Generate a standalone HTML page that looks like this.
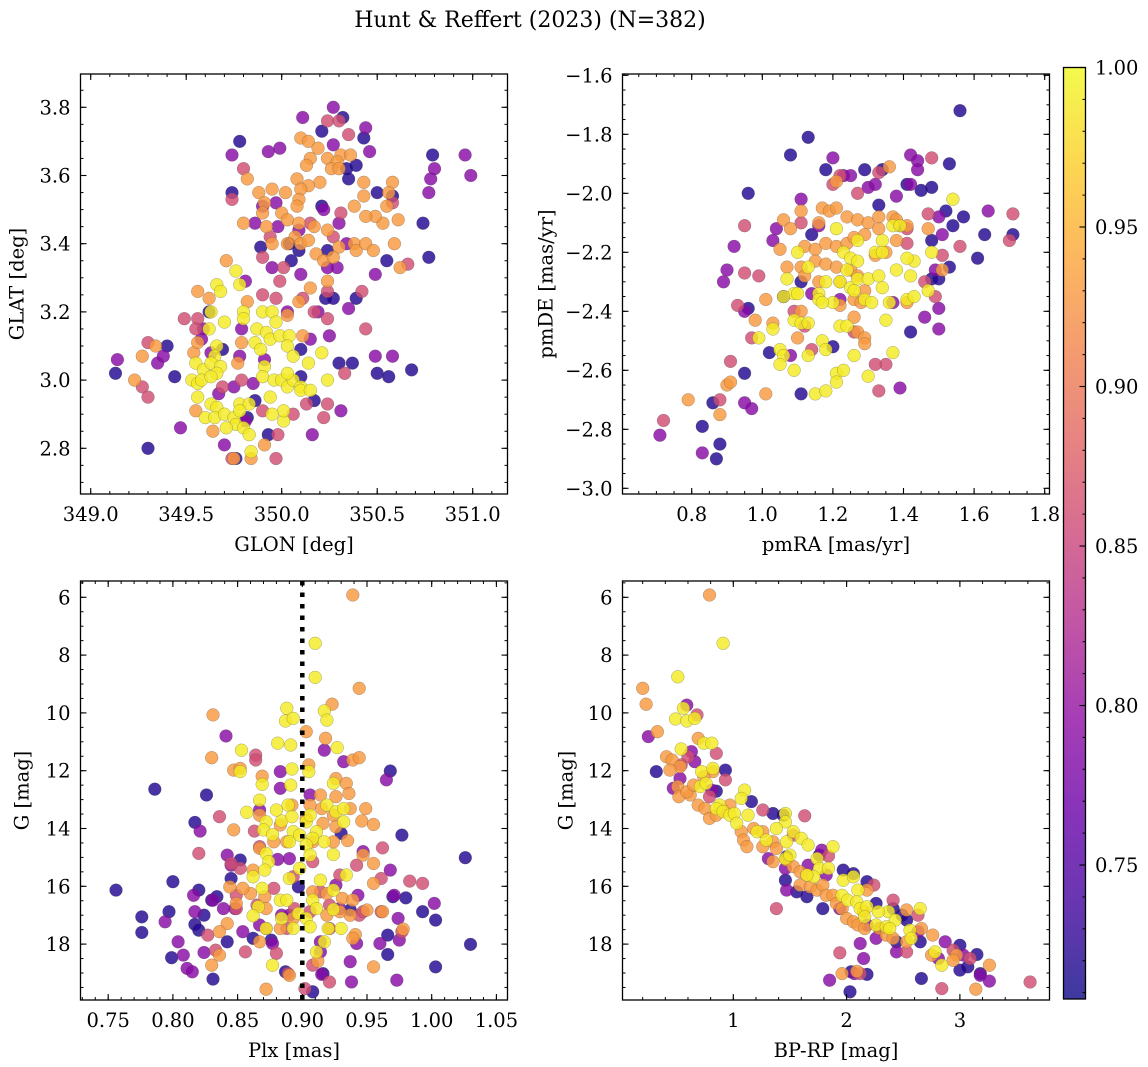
<!DOCTYPE html>
<html><head><meta charset="utf-8"><style>
html,body{margin:0;padding:0;background:#fff;}
svg{display:block;font-family:"DejaVu Serif","Liberation Serif",serif;}
</style></head><body>
<svg id="fig" width="1148" height="1067" viewBox="0 0 1148 1067" xmlns="http://www.w3.org/2000/svg">
<defs>
<linearGradient id="plasmaGrad" x1="0" y1="1" x2="0" y2="0">
<stop offset="0" stop-color="#0d0887"/><stop offset="0.1" stop-color="#41049d"/><stop offset="0.2" stop-color="#6a00a8"/><stop offset="0.3" stop-color="#8f0da4"/><stop offset="0.4" stop-color="#b12a90"/><stop offset="0.5" stop-color="#cc4778"/><stop offset="0.6" stop-color="#e16462"/><stop offset="0.7" stop-color="#f2844b"/><stop offset="0.8" stop-color="#fca636"/><stop offset="0.9" stop-color="#fcce25"/><stop offset="1" stop-color="#f0f921"/>
</linearGradient>
<clipPath id="c1"><rect x="80.5" y="74" width="427" height="420"/></clipPath>
<clipPath id="c2"><rect x="622.5" y="74" width="427" height="420"/></clipPath>
<clipPath id="c3"><rect x="80.5" y="581" width="427" height="419"/></clipPath>
<clipPath id="c4"><rect x="622.5" y="581" width="427" height="419"/></clipPath>
</defs>
<text x="530" y="27" font-size="22" text-anchor="middle">Hunt &amp; Reffert (2023) (N=382)</text>
<g id="root"></g>
</svg>
<script>
// probability level of each colour group
const probLevels = [0.72, 0.79, 0.86, 0.93, 0.99];
// Panel 1: GLON, GLAT
const p1Dark = [[350.32,3.77],[350.21,3.73],[350.43,3.71],[349.78,3.70],[350.79,3.66],[350.39,3.63],[350.34,3.62],[350.35,3.59],[349.74,3.55],[350.21,3.51],[350.58,3.54],[350.50,3.55],[350.74,3.46],[349.89,3.39],[350.04,3.40],[350.05,3.35],[350.55,3.35],[350.77,3.36],[350.09,3.38],[350.24,3.38],[350.23,3.24],[350.39,3.24],[350.27,3.24],[349.40,3.10],[349.13,3.02],[349.44,3.01],[350.30,3.05],[350.37,3.05],[350.50,3.02],[350.56,3.01],[350.68,3.03],[350.17,2.94],[349.86,2.94],[349.93,2.84],[349.30,2.80],[349.76,2.77],[350.10,3.09],[349.69,3.09],[349.62,3.20],[350.10,3.01],[349.82,2.89]];
const p1Purple = [[350.27,3.80],[350.11,3.77],[350.44,3.74],[349.74,3.66],[349.93,3.67],[349.99,3.68],[350.27,3.69],[350.46,3.67],[350.96,3.66],[350.80,3.62],[350.78,3.59],[350.77,3.55],[350.99,3.60],[349.97,3.52],[349.86,3.46],[349.98,3.45],[350.30,3.46],[350.34,3.40],[350.29,3.33],[349.95,3.33],[350.49,3.31],[350.10,3.31],[350.03,3.20],[350.19,3.20],[350.35,3.21],[349.81,3.29],[349.79,3.15],[349.58,3.12],[349.59,3.15],[349.91,3.06],[349.78,3.07],[350.49,3.07],[350.58,3.07],[350.25,3.13],[349.47,2.86],[349.70,2.81],[350.16,2.84],[350.31,2.91],[349.67,2.96],[349.85,2.99],[349.14,3.06],[349.35,3.05],[349.63,3.08],[349.38,3.07],[350.15,3.12],[349.81,2.88],[349.75,2.98],[350.24,3.33],[350.22,3.50],[349.90,3.51],[350.09,3.44]];
const p1Pink = [[350.24,3.76],[350.30,3.76],[350.35,3.72],[349.80,3.62],[349.74,3.53],[349.90,3.36],[350.01,3.33],[349.99,3.29],[349.90,3.25],[349.97,3.24],[350.11,3.24],[350.24,3.26],[350.42,3.26],[350.17,3.20],[350.24,3.18],[350.44,3.15],[349.56,3.18],[349.55,3.15],[349.30,3.11],[349.27,2.98],[349.30,2.95],[349.49,3.18],[350.33,3.02],[349.79,3.00],[349.69,2.98],[349.90,2.91],[350.06,2.90],[350.22,2.89],[350.24,2.93],[349.98,2.84],[349.97,2.77],[349.74,2.77],[350.58,3.52],[350.66,3.34],[350.27,3.42],[349.94,3.42],[350.15,3.46],[350.31,3.49],[350.13,2.93]];
const p1Orange = [[350.10,3.71],[350.14,3.70],[350.19,3.68],[350.15,3.65],[350.24,3.65],[350.31,3.66],[350.36,3.66],[350.29,3.64],[350.13,3.63],[350.26,3.62],[350.30,3.62],[350.20,3.58],[350.08,3.59],[350.14,3.57],[350.10,3.56],[350.02,3.55],[349.95,3.56],[349.88,3.55],[350.09,3.53],[350.08,3.51],[349.91,3.52],[349.90,3.49],[350.00,3.49],[350.03,3.47],[349.92,3.45],[349.80,3.46],[350.09,3.46],[350.17,3.45],[350.07,3.42],[350.10,3.40],[350.14,3.41],[350.03,3.40],[350.24,3.44],[350.30,3.39],[350.38,3.40],[350.39,3.38],[350.44,3.40],[350.48,3.38],[350.53,3.46],[350.49,3.48],[350.44,3.48],[350.61,3.47],[350.58,3.58],[350.56,3.55],[350.55,3.51],[350.59,3.40],[350.62,3.33],[350.43,3.58],[350.38,3.51],[350.43,3.54],[350.18,3.37],[350.22,3.35],[350.24,3.29],[350.15,3.27],[349.82,3.59],[349.71,3.35],[349.62,3.24],[349.56,3.26],[349.82,3.23],[350.03,3.19],[350.09,3.23],[349.27,3.07],[349.23,3.00],[349.34,3.10],[349.54,3.08],[349.55,2.91],[349.64,2.85],[349.91,2.81],[349.84,2.77],[349.75,2.77],[350.11,3.13],[349.79,3.11],[349.77,3.05],[349.56,3.11],[350.27,3.36],[349.95,3.40]];
const p1Yellow = [[349.76,3.32],[349.66,3.28],[349.68,3.26],[349.78,3.28],[349.63,3.20],[349.70,3.17],[349.80,3.20],[349.80,3.18],[349.90,3.20],[349.95,3.20],[349.97,3.17],[349.62,3.15],[349.87,3.15],[349.92,3.14],[349.94,3.12],[349.99,3.13],[350.04,3.13],[350.03,3.10],[350.06,3.07],[349.86,3.11],[349.89,3.09],[349.66,3.10],[349.65,3.07],[349.55,3.05],[349.59,3.03],[349.63,3.05],[349.68,3.04],[349.66,3.02],[349.53,3.00],[349.56,2.99],[349.58,3.00],[349.63,3.01],[349.91,3.04],[349.90,3.01],[349.96,3.00],[350.00,3.00],[350.03,2.98],[350.06,3.00],[350.10,2.98],[350.10,2.97],[350.15,2.97],[350.14,3.05],[350.21,3.08],[350.24,3.00],[350.03,3.02],[349.56,2.95],[349.63,2.93],[349.66,2.92],[349.60,2.89],[349.65,2.89],[349.70,2.90],[349.75,2.89],[349.78,2.93],[349.83,2.93],[349.78,2.91],[349.76,2.87],[349.80,2.86],[349.83,2.84],[349.71,2.86],[350.01,2.88],[350.01,2.91],[349.95,2.90],[349.84,2.79],[349.94,2.95]];
// Panel 2: pmRA, pmDE
const p2Dark = [[1.56,-1.72],[1.13,-1.81],[1.08,-1.87],[1.18,-1.92],[1.29,-1.92],[1.34,-1.92],[1.53,-1.90],[1.41,-1.97],[1.45,-1.99],[1.48,-1.98],[0.96,-2.00],[1.33,-2.04],[1.52,-2.06],[1.57,-2.08],[1.63,-2.14],[1.71,-2.14],[1.48,-2.16],[1.61,-2.22],[1.53,-2.25],[1.48,-2.29],[1.50,-2.29],[1.14,-2.14],[1.06,-2.35],[0.96,-2.39],[1.11,-2.30],[1.42,-2.47],[1.02,-2.54],[1.20,-2.52],[0.95,-2.61],[0.86,-2.71],[0.83,-2.79],[0.88,-2.85],[0.87,-2.90],[1.11,-2.68],[1.54,-2.11],[1.39,-2.11]];
const p2Purple = [[1.20,-1.88],[1.42,-1.87],[1.44,-1.89],[1.44,-1.92],[1.25,-1.94],[1.30,-1.98],[1.32,-1.97],[1.38,-2.01],[1.42,-1.97],[1.11,-2.02],[1.04,-2.12],[0.92,-2.18],[0.90,-2.26],[0.89,-2.30],[0.95,-2.40],[1.03,-2.16],[1.50,-2.08],[1.64,-2.06],[1.51,-2.14],[1.49,-2.26],[1.50,-2.39],[1.46,-2.42],[1.50,-2.46],[1.39,-2.66],[0.95,-2.71],[0.97,-2.73],[0.71,-2.82],[0.83,-2.88],[1.08,-2.55],[1.23,-1.94],[1.16,-2.11],[1.22,-2.36],[1.37,-2.37],[1.14,-2.34]];
const p2Pink = [[1.48,-1.88],[1.33,-1.93],[1.27,-2.00],[0.95,-2.11],[0.95,-2.27],[0.99,-2.28],[0.93,-2.38],[0.97,-2.49],[0.91,-2.57],[0.88,-2.70],[1.71,-2.07],[1.70,-2.16],[1.56,-2.18],[1.47,-2.07],[1.11,-2.10],[1.41,-2.17],[1.51,-2.21],[1.46,-2.30],[1.49,-2.35],[1.20,-1.97],[1.22,-1.94],[1.35,-2.58],[1.32,-2.58],[1.33,-2.67],[1.14,-2.53],[1.12,-2.45],[1.26,-2.47],[0.72,-2.77],[1.41,-2.12],[1.09,-2.40]];
const p2Orange = [[1.36,-1.91],[1.21,-1.96],[1.11,-2.06],[1.17,-2.05],[1.19,-2.06],[1.21,-2.05],[1.06,-2.09],[1.08,-2.12],[1.16,-2.10],[1.24,-2.08],[1.27,-2.09],[1.30,-2.10],[1.33,-2.08],[1.37,-2.08],[1.38,-2.09],[1.41,-2.11],[1.12,-2.18],[1.15,-2.19],[1.18,-2.17],[1.21,-2.18],[1.24,-2.17],[1.26,-2.15],[1.29,-2.14],[1.33,-2.12],[1.05,-2.19],[1.07,-2.25],[1.11,-2.25],[1.15,-2.23],[1.18,-2.24],[1.21,-2.25],[1.25,-2.26],[1.27,-2.28],[1.32,-2.21],[1.35,-2.20],[1.38,-2.16],[1.12,-2.28],[1.16,-2.30],[1.22,-2.30],[1.26,-2.36],[1.29,-2.33],[1.11,-2.40],[1.22,-2.38],[1.26,-2.42],[1.28,-2.37],[0.98,-2.43],[1.03,-2.44],[1.10,-2.49],[1.27,-2.47],[1.29,-2.49],[1.29,-2.51],[0.90,-2.65],[0.91,-2.64],[0.88,-2.75],[0.79,-2.70],[1.01,-2.68],[1.01,-2.36],[1.41,-2.37],[1.47,-2.12],[1.51,-2.26]];
const p2Yellow = [[1.54,-2.02],[1.21,-2.12],[1.27,-2.16],[1.34,-2.16],[1.37,-2.11],[1.39,-2.11],[1.32,-2.20],[1.34,-2.20],[1.23,-2.20],[1.25,-2.22],[1.27,-2.23],[1.48,-2.20],[1.43,-2.23],[1.41,-2.22],[1.10,-2.20],[1.07,-2.29],[1.13,-2.25],[1.18,-2.30],[1.22,-2.30],[1.25,-2.32],[1.27,-2.29],[1.30,-2.29],[1.33,-2.28],[1.34,-2.32],[1.38,-2.26],[1.42,-2.28],[1.24,-2.26],[1.16,-2.34],[1.20,-2.37],[1.26,-2.33],[1.29,-2.36],[1.31,-2.37],[1.36,-2.37],[1.41,-2.36],[1.43,-2.35],[1.47,-2.33],[1.09,-2.34],[1.10,-2.34],[1.06,-2.35],[1.16,-2.36],[1.17,-2.37],[1.09,-2.43],[1.11,-2.44],[1.13,-2.44],[1.22,-2.45],[1.24,-2.45],[1.35,-2.43],[1.03,-2.46],[0.99,-2.49],[1.05,-2.53],[1.06,-2.55],[1.05,-2.58],[1.09,-2.60],[1.13,-2.55],[1.17,-2.50],[1.18,-2.53],[1.26,-2.55],[1.37,-2.54],[1.30,-2.62],[1.21,-2.61],[1.23,-2.60],[1.21,-2.64],[1.15,-2.68],[1.18,-2.67]];
// Panel 3: Plx, G
const p3Dark = [[0.786,12.64],[0.826,12.84],[0.817,13.79],[0.756,16.13],[0.800,15.84],[0.797,16.88],[0.776,17.06],[0.776,17.60],[0.799,18.47],[0.817,17.32],[0.820,17.52],[0.831,19.21],[0.820,16.13],[0.830,16.48],[0.834,16.36],[0.842,17.92],[0.852,15.09],[0.862,17.80],[0.876,17.86],[0.887,18.96],[0.908,19.65],[0.916,19.02],[0.897,16.02],[0.968,12.01],[0.977,14.23],[1.026,15.01],[1.030,18.01],[1.003,18.79],[1.003,17.17],[0.993,16.88],[0.980,16.40],[0.966,17.69],[0.966,18.36],[0.930,14.17],[0.937,16.82],[0.824,17.00],[0.970,16.36],[0.845,15.73]];
const p3Purple = [[0.841,10.80],[0.965,12.32],[0.932,11.69],[0.917,11.29],[0.821,14.09],[0.842,14.92],[0.883,12.03],[0.883,12.61],[0.867,13.36],[0.804,17.92],[0.794,17.23],[0.808,18.38],[0.811,18.84],[0.815,18.96],[0.824,18.29],[0.816,16.31],[0.817,16.88],[0.831,16.48],[0.839,16.77],[0.848,16.77],[0.854,17.57],[0.877,17.98],[0.884,17.00],[0.914,17.92],[0.915,19.05],[0.937,18.61],[0.938,19.31],[0.942,17.98],[0.960,17.98],[0.973,19.25],[0.974,17.11],[0.975,17.86],[1.002,16.59],[0.947,14.80],[0.968,15.44],[0.971,16.31],[0.943,16.31],[0.926,15.96],[0.890,17.00],[0.881,15.07],[0.867,17.34],[0.906,12.84],[0.929,16.77],[0.845,15.27],[0.914,18.27],[0.890,15.04]];
const p3Pink = [[0.864,11.46],[0.864,11.63],[0.836,13.59],[0.820,14.86],[0.852,15.38],[0.845,15.21],[0.849,16.77],[0.856,18.27],[0.833,18.21],[0.827,17.69],[0.880,18.32],[0.889,19.02],[0.908,18.73],[0.921,19.31],[0.902,19.54],[0.962,14.67],[0.961,15.73],[0.983,15.82],[0.993,15.90],[0.977,17.57],[0.961,16.88],[0.942,15.27],[0.867,14.63],[0.863,14.09],[0.878,16.07],[0.894,16.77],[0.914,16.19],[0.929,15.61],[0.944,17.00],[0.872,17.46],[0.888,17.46],[0.921,17.46],[0.906,16.88],[0.908,15.15],[0.849,16.31],[0.865,16.65],[0.893,15.67],[0.921,16.65],[0.947,16.88]];
const p3Orange = [[0.939,5.92],[0.944,9.15],[0.831,10.07],[0.923,9.70],[0.903,10.65],[0.918,10.88],[0.830,11.55],[0.847,11.98],[0.852,11.92],[0.869,12.19],[0.905,11.80],[0.939,11.63],[0.944,11.55],[0.926,12.27],[0.934,12.44],[0.936,12.79],[0.926,12.90],[0.914,12.84],[0.906,13.19],[0.915,13.31],[0.924,13.54],[0.916,13.82],[0.926,13.94],[0.937,13.31],[0.949,13.31],[0.946,13.74],[0.955,13.86],[0.935,14.42],[0.947,14.92],[0.955,15.21],[0.955,15.90],[0.950,16.82],[0.962,16.88],[0.978,17.48],[0.941,17.67],[0.955,18.79],[0.847,14.05],[0.842,17.29],[0.836,17.57],[0.830,18.73],[0.836,18.38],[0.872,19.56],[0.890,19.08],[0.912,18.59],[0.883,17.46],[0.893,17.11],[0.908,16.19],[0.919,16.25],[0.931,16.42],[0.937,17.00],[0.939,16.48],[0.860,16.25],[0.844,16.02],[0.854,16.07],[0.871,16.36],[0.872,16.77],[0.919,17.00],[0.929,16.88],[0.867,13.54],[0.883,13.88],[0.903,13.65],[0.908,14.46],[0.888,14.46],[0.867,14.69],[0.849,16.59],[0.867,17.92],[0.892,13.19],[0.924,14.46],[0.939,17.80],[0.862,15.44],[0.878,14.46]];
const p3Yellow = [[0.910,7.59],[0.910,8.77],[0.888,9.84],[0.917,9.93],[0.919,10.25],[0.887,10.28],[0.893,10.19],[0.881,11.05],[0.891,11.11],[0.853,11.29],[0.852,12.03],[0.927,11.20],[0.905,12.03],[0.892,11.94],[0.869,12.47],[0.891,12.50],[0.924,12.44],[0.867,13.02],[0.857,13.44],[0.889,13.19],[0.884,13.74],[0.880,13.36],[0.872,13.77],[0.870,14.05],[0.877,14.21],[0.892,13.59],[0.893,14.11],[0.890,14.46],[0.903,13.77],[0.898,14.23],[0.906,13.54],[0.919,13.19],[0.926,13.42],[0.932,13.31],[0.932,13.77],[0.911,14.11],[0.908,14.34],[0.903,14.57],[0.917,14.46],[0.924,14.90],[0.906,14.92],[0.872,14.86],[0.874,15.15],[0.871,15.44],[0.862,15.67],[0.898,15.38],[0.890,15.73],[0.914,15.79],[0.934,15.61],[0.869,16.07],[0.924,16.13],[0.883,16.48],[0.888,16.48],[0.908,16.48],[0.911,16.77],[0.924,16.80],[0.866,16.71],[0.862,17.02],[0.884,17.11],[0.897,16.94],[0.903,17.11],[0.906,17.40],[0.893,17.46],[0.872,17.46],[0.920,17.46],[0.930,17.46],[0.917,17.92],[0.911,18.27],[0.877,18.73]];
const plxRef = 0.9;
// Panel 4: BP-RP, G
const p4Dark = [[0.32,12.03],[0.93,11.98],[0.85,12.71],[1.16,13.07],[1.35,13.48],[1.44,13.54],[1.47,14.98],[1.46,15.79],[1.56,16.19],[1.65,16.36],[1.79,16.77],[1.97,15.44],[2.06,15.56],[2.18,15.84],[2.26,16.59],[2.41,16.77],[2.49,17.00],[2.44,17.92],[2.53,17.17],[2.65,17.92],[3.00,18.04],[3.07,18.79],[3.15,18.36],[3.18,19.02],[2.03,19.65],[2.18,19.05],[2.66,19.19],[3.00,18.90],[2.04,18.96],[1.76,14.92],[2.29,17.46]];
const p4Purple = [[0.25,10.82],[0.59,9.73],[0.63,11.34],[0.66,11.69],[0.53,12.27],[0.47,12.61],[0.81,12.67],[1.78,14.75],[1.31,15.04],[1.46,15.38],[1.47,16.13],[2.26,17.80],[2.44,18.27],[2.63,17.57],[2.87,17.92],[3.03,18.38],[3.18,19.08],[3.26,19.28],[1.85,19.25],[2.15,18.50],[2.07,19.02],[2.12,17.98],[1.82,15.61],[1.66,15.27],[1.94,16.77],[2.18,17.34],[2.81,18.50]];
const p4Pink = [[0.68,10.07],[0.85,11.40],[0.60,11.52],[0.54,11.80],[0.93,12.32],[1.26,13.36],[1.63,13.56],[1.84,14.95],[2.24,15.96],[2.41,16.48],[2.63,17.00],[2.94,18.21],[2.53,18.27],[2.84,19.54],[3.62,19.31],[1.94,18.30],[2.12,19.02],[3.09,18.50],[0.79,12.90],[1.38,16.77],[1.53,14.23]];
const p4Orange = [[0.79,5.92],[0.20,9.15],[0.23,9.70],[0.33,10.65],[0.41,11.52],[0.46,11.63],[0.53,11.86],[0.44,11.98],[0.51,12.55],[0.52,12.90],[0.62,12.84],[0.69,13.19],[0.69,10.88],[0.59,12.73],[0.75,13.31],[0.79,13.65],[0.85,13.54],[0.91,13.36],[0.97,13.19],[1.07,14.11],[1.09,14.40],[1.12,14.63],[1.18,14.00],[1.26,14.11],[1.26,14.63],[1.35,14.46],[1.38,14.69],[1.47,15.09],[1.53,15.32],[1.59,15.50],[1.65,15.61],[1.59,15.96],[1.68,16.02],[1.74,16.13],[1.79,15.96],[1.82,16.31],[1.88,16.31],[1.91,16.59],[1.96,16.77],[2.00,17.11],[2.06,17.23],[2.15,16.88],[2.18,16.13],[2.10,17.34],[2.16,17.46],[2.29,17.46],[2.35,17.69],[2.41,17.80],[2.53,17.92],[2.66,17.46],[2.76,17.69],[2.75,18.38],[2.97,18.38],[2.94,18.56],[3.26,18.73],[3.14,19.56],[1.96,19.02],[2.09,18.94],[0.82,12.03],[0.74,12.21],[0.65,12.50],[1.35,15.15],[2.53,16.82]];
const p4Yellow = [[0.91,7.59],[0.51,8.75],[0.56,9.84],[0.49,10.21],[0.59,10.28],[0.66,10.19],[0.74,11.05],[0.81,11.05],[0.54,11.25],[0.72,12.03],[0.82,11.92],[0.71,12.55],[0.76,12.44],[1.10,12.67],[1.07,12.96],[0.88,13.19],[0.85,13.31],[0.91,13.42],[0.97,13.54],[1.01,13.48],[1.03,13.82],[1.13,13.54],[1.21,14.11],[1.29,14.40],[1.46,13.48],[1.46,13.77],[1.38,14.00],[1.47,14.46],[1.53,14.11],[1.60,14.34],[1.66,14.57],[1.88,14.63],[1.46,15.04],[1.50,14.92],[1.74,15.04],[1.76,15.38],[1.84,15.38],[1.71,15.67],[1.65,15.61],[1.97,15.79],[2.06,15.67],[1.96,16.31],[2.01,16.48],[2.10,16.13],[2.09,16.54],[2.12,16.77],[2.18,16.71],[2.16,17.06],[2.26,17.34],[2.35,17.40],[2.37,16.88],[2.43,17.17],[2.38,17.46],[2.56,17.52],[2.57,17.80],[2.65,16.77],[2.78,18.27],[2.84,18.73],[2.28,16.88]];
// tick labels
const p1XTicks = [349.0, 349.5, 350.0, 350.5, 351.0];
const p1YTicks = [2.8, 3.0, 3.2, 3.4, 3.6, 3.8];
const p2XTicks = [0.8, 1.0, 1.2, 1.4, 1.6, 1.8];
const p2YTicks = [-3.0, -2.8, -2.6, -2.4, -2.2, -2.0, -1.8, -1.6];
const p3XTicks = [0.75, 0.80, 0.85, 0.90, 0.95, 1.00, 1.05];
const gTicks = [6, 8, 10, 12, 14, 16, 18];
const p4XTicks = [1, 2, 3];
const cbarTicks = [0.75, 0.80, 0.85, 0.90, 0.95, 1.00];
const cbarMin = 0.708, cbarMax = 1.0;

const NS = 'http://www.w3.org/2000/svg';
const root = document.getElementById('root');
const FS = 19.5;
function mk(tag, attrs, parent) {
  const e = document.createElementNS(NS, tag);
  for (const k in attrs) e.setAttribute(k, attrs[k]);
  (parent || root).appendChild(e);
  return e;
}
const plasma = ['#0d0887','#41049d','#6a00a8','#8f0da4','#b12a90','#cc4778','#e16462','#f2844b','#fca636','#fcce25','#f0f921'];
function hex(c){return [parseInt(c.slice(1,3),16),parseInt(c.slice(3,5),16),parseInt(c.slice(5,7),16)];}
function cmap(p) {
  let t = (p - cbarMin) / (cbarMax - cbarMin);
  t = Math.max(0, Math.min(1, t));
  const f = t * 10, i = Math.min(9, Math.floor(f)), r = f - i;
  const a = hex(plasma[i]), b = hex(plasma[i + 1]);
  return 'rgb(' + a.map((v, k) => Math.round(v + (b[k] - v) * r)).join(',') + ')';
}
function fmt(v, d) { return v.toFixed(d).replace('-', '\u2212'); }

const panels = [
  { id: 'glon-glat', box: [80.5, 74, 507.5, 494], clip: 'c1',
    sx: v => 90.7 + (v - 349) * 191, sy: v => 107.3 + (3.8 - v) * 341,
    groups: [p1Dark, p1Purple, p1Pink, p1Orange, p1Yellow],
    xt: p1XTicks, xd: 1, xMinor: [348.9, 351.2, 0.1], yt: p1YTicks, yd: 1, yMinor: [2.65, 3.9, 0.05],
    xlab: 'GLON [deg]', ylab: 'GLAT [deg]', ylx: 17 },
  { id: 'pmra-pmde', box: [622.5, 74, 1049.5, 494], clip: 'c2',
    sx: v => 691.7 + (v - 0.8) * 353, sy: v => 193.3 - (v + 2.0) * 295,
    groups: [p2Dark, p2Purple, p2Pink, p2Orange, p2Yellow],
    xt: p2XTicks, xd: 1, xMinor: [0.6, 1.85, 0.05], yt: p2YTicks, yd: 1, yMinor: [-3.05, -1.55, 0.05],
    xlab: 'pmRA [mas/yr]', ylab: 'pmDE [mas/yr]', ylx: 546 },
  { id: 'plx-g', box: [80.5, 581, 507.5, 1000], clip: 'c3',
    sx: v => 302.3 + (v - 0.9) * 1294, sy: v => 597.3 + (v - 6) * 28.9,
    groups: [p3Dark, p3Purple, p3Pink, p3Orange, p3Yellow],
    xt: p3XTicks, xd: 2, xMinor: [0.72, 1.07, 0.01], yt: gTicks, yd: 0, yMinor: [5.0, 20.0, 0.5],
    xlab: 'Plx [mas]', ylab: 'G [mag]', ylx: 22 },
  { id: 'bprp-g', box: [622.5, 581, 1049.5, 1000], clip: 'c4',
    sx: v => 733.3 + (v - 1) * 113.3, sy: v => 597.3 + (v - 6) * 28.9,
    groups: [p4Dark, p4Purple, p4Pink, p4Orange, p4Yellow],
    xt: p4XTicks, xd: 0, xMinor: [0.0, 3.8, 0.2], yt: gTicks, yd: 0, yMinor: [5.0, 20.0, 0.5],
    xlab: 'BP-RP [mag]', ylab: 'G [mag]', ylx: 566 }
];

panels.forEach((P, pi) => {
  const [x0, y0, x1, y1] = P.box;
  const g = mk('g', {});
  
  
  const pts = mk('g', { 'clip-path': 'url(#' + P.clip + ')' }, g);
  
  
  P.groups.forEach((grp, gi) => {
    const col = cmap(probLevels[gi]);
    grp.forEach(d => {
      const c = mk('circle', { cx: P.sx(d[0]).toFixed(1), cy: P.sy(d[1]).toFixed(1), r: 6.4, fill: col, 'fill-opacity': 0.82, stroke: '#444', 'stroke-opacity': 0.45, 'stroke-width': 0.5 }, pts);
      
      
    });
  });
  if (pi === 2) {
    const ln = mk('line', { x1: P.sx(plxRef), x2: P.sx(plxRef), y1: y0, y2: y1, stroke: '#000', 'stroke-width': 4.5, 'stroke-dasharray': '4.5 7' }, g);
    
    
  }
  const ax = mk('g', {}, g);
  
  
  for (let v = P.xMinor[0]; v <= P.xMinor[1] + 1e-9; v += P.xMinor[2]) {
    const x = P.sx(v); if (x < x0 + 0.5 || x > x1 - 0.5) continue;
    mk('line', { x1: x, x2: x, y1: y1, y2: y1 - 3, stroke: '#000', 'stroke-width': 1 }, ax);
    mk('line', { x1: x, x2: x, y1: y0, y2: y0 + 3, stroke: '#000', 'stroke-width': 1 }, ax);
  }
  for (let v = P.yMinor[0]; v <= P.yMinor[1] + 1e-9; v += P.yMinor[2]) {
    const y = P.sy(v); if (y < y0 + 0.5 || y > y1 - 0.5) continue;
    mk('line', { x1: x0, x2: x0 + 3, y1: y, y2: y, stroke: '#000', 'stroke-width': 1 }, ax);
    mk('line', { x1: x1, x2: x1 - 3, y1: y, y2: y, stroke: '#000', 'stroke-width': 1 }, ax);
  }
  P.xt.forEach(v => {
    const x = P.sx(v);
    if (x >= x0 && x <= x1) {
      mk('line', { x1: x, x2: x, y1: y1, y2: y1 - 6, stroke: '#000', 'stroke-width': 1.1 }, ax);
      mk('line', { x1: x, x2: x, y1: y0, y2: y0 + 6, stroke: '#000', 'stroke-width': 1.1 }, ax);
    }
    const t = mk('text', { x: x, y: y1 + 27, 'font-size': FS, 'text-anchor': 'middle' }, ax);
    t.textContent = fmt(v, P.xd);
    
    
  });
  P.yt.forEach(v => {
    const y = P.sy(v);
    if (y < y0 - 1 || y > y1 + 1) return;
    mk('line', { x1: x0, x2: x0 + 6, y1: y, y2: y, stroke: '#000', 'stroke-width': 1.1 }, ax);
    mk('line', { x1: x1, x2: x1 - 6, y1: y, y2: y, stroke: '#000', 'stroke-width': 1.1 }, ax);
    const t = mk('text', { x: x0 - 10, y: y + 7, 'font-size': FS, 'text-anchor': 'end' }, ax);
    t.textContent = fmt(v, P.yd);
    
    
  });
  const fr = mk('rect', { x: x0, y: y0, width: x1 - x0, height: y1 - y0, fill: 'none', stroke: '#000', 'stroke-width': 1.3 }, ax);
  
  
  const xl = mk('text', { x: (x0 + x1) / 2, y: y1 + 57, 'font-size': FS, 'text-anchor': 'middle' }, ax);
  xl.textContent = P.xlab;
  
  
  const cy = (y0 + y1) / 2;
  const yl = mk('text', { x: P.ylx, y: cy, 'font-size': FS, 'text-anchor': 'middle', transform: 'rotate(-90 ' + P.ylx + ' ' + cy + ')', 'dominant-baseline': 'central' }, ax);
  yl.textContent = P.ylab;
  
  
});

// colorbar
const cb = mk('g', {});


const cbX0 = 1063.5, cbX1 = 1085.5, cbTop = 67.5, cbBot = 999;
const cby = v => cbTop + (cbarMax - v) / (cbarMax - cbarMin) * (cbBot - cbTop);
mk('rect', { x: cbX0, y: cbTop, width: cbX1 - cbX0, height: cbBot - cbTop, fill: 'url(#plasmaGrad)', 'fill-opacity': 0.8 }, cb);
for (let v = 0.71; v <= 1.0001; v += 0.01) {
  const y = cby(v);
  mk('line', { x1: cbX1, x2: cbX1 - 3, y1: y, y2: y, stroke: '#000', 'stroke-width': 1 }, cb);
}
cbarTicks.forEach(v => {
  const y = cby(v);
  mk('line', { x1: cbX1, x2: cbX1 - 6, y1: y, y2: y, stroke: '#000', 'stroke-width': 1.1 }, cb);
  const t = mk('text', { x: 1095, y: y + 7, 'font-size': FS }, cb);
  t.textContent = v.toFixed(2);
  
  
});
mk('rect', { x: cbX0, y: cbTop, width: cbX1 - cbX0, height: cbBot - cbTop, fill: 'none', stroke: '#000', 'stroke-width': 1.3 }, cb);
</script>
</body></html>
